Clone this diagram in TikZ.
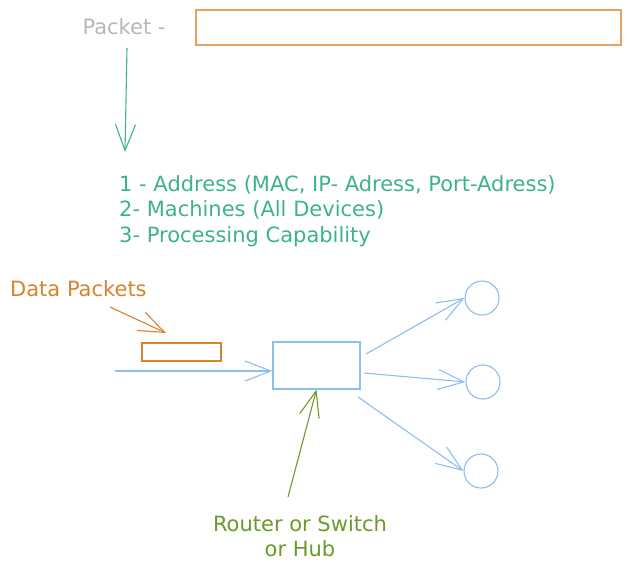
\documentclass[tikz,border=0pt]{standalone}
\usepackage{fontspec}
\setmainfont{DejaVu Sans}
\usetikzlibrary{arrows.meta}

\definecolor{packetgray}{HTML}{B4B8BC}
\definecolor{packetorange}{HTML}{E9A062}
\definecolor{dataorange}{HTML}{D9822B}
\definecolor{listgreen}{HTML}{3DB38A}
\definecolor{netblue}{HTML}{8EBDF0}
\definecolor{hubgreen}{HTML}{6B9A2B}

\tikzset{
	hand/.style={font=\fontsize{21}{25.5}\selectfont, inner sep=0pt},
	sketch/.style={line width=1.1pt, -{Straight Barb[length=26pt,width=20pt,line width=1.1pt]}},
	host/.style={circle, draw=netblue, line width=1.1pt, minimum size=34pt, inner sep=0pt}
}

\begin{document}
\begin{tikzpicture}[x=1pt,y=-1pt]
	\useasboundingbox (0,0) rectangle (631,571);
	
	% packet header
	\node[hand, text=packetgray] (packet) at (124,27) {Packet -};
	\node[draw=packetorange, line width=1.1pt, minimum width=425pt, minimum height=35pt, inner sep=0pt] (frame) at (408.5,27.5) {};
	\coordinate (pktstart) at (127,48);
	\coordinate (pktend) at (125,152);
	\draw[sketch, listgreen] (pktstart) -- (pktend);
	
	\node[hand, text=listgreen, anchor=west, align=left] (needs) at (119,211) {%
		1 - Address (MAC, IP- Adress, Port-Adress)\\
		2- Machines (All Devices)\\
		3- Processing Capability};
	
	% data packets
	\node[hand, text=dataorange, anchor=west] (datalbl) at (10,289) {Data Packets};
	\node[draw=dataorange, line width=1.1pt, minimum width=79pt, minimum height=18pt, inner sep=0pt] (data) at (181.5,352) {};
	\coordinate (dtail) at (110,307);
	\coordinate (dhead) at (166,333);
	\draw[sketch, dataorange] (dtail) -- (dhead);
	
	% device and hosts
	\node[draw=netblue, line width=1.1pt, minimum width=87pt, minimum height=47pt, inner sep=0pt] (hub) at (316.5,365.5) {};
	\coordinate (in) at (115,371);
	\draw[sketch, netblue] (in) -- (hub.west |- in);
	
	\node[host] (h1) at (482,298) {};
	\node[host] (h2) at (483,382) {};
	\node[host] (h3) at (481,471) {};
	
	\coordinate (o1) at (366,354);
	\coordinate (o2) at (364,373);
	\coordinate (o3) at (358,397);
	\draw[sketch, netblue] (o1) -- (h1.west);
	\draw[sketch, netblue] (o2) -- (h2.west);
	\draw[sketch, netblue] (o3) -- (h3.west);
	
	% device label
	\node[hand, text=hubgreen, align=center] (hublbl) at (300,536) {Router or Switch\\ or Hub};
	\coordinate (htail) at (288,497);
	\draw[sketch, hubgreen] (htail) -- (hub.south);
\end{tikzpicture}
\end{document}
